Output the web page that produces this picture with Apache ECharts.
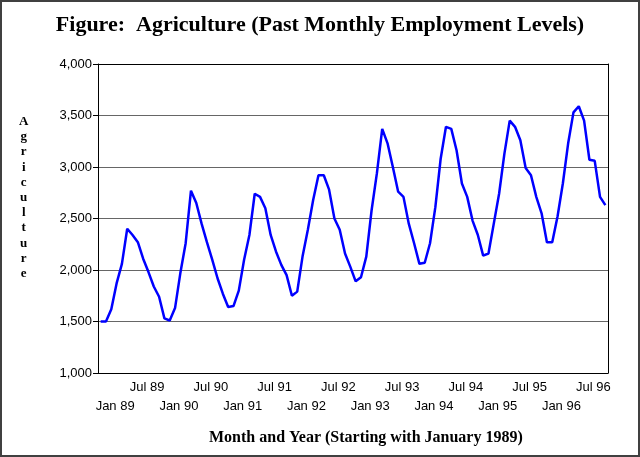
<!DOCTYPE html>
<html>
<head>
<meta charset="utf-8">
<script src="https://cdn.jsdelivr.net/npm/echarts@6/dist/echarts.min.js"></script>
<style>
html,body{margin:0;padding:0;background:#fff;}
#c{width:640px;height:457px;}
</style>
</head>
<body>
<div id="c"></div>
<script>
const titleText = 'Figure:  Agriculture (Past Monthly Employment Levels)';
const xAxisTitle = 'Month and Year (Starting with January 1989)';
const yAxisTitle = 'Agriculture';
const monthNames = ['Jan','Feb','Mar','Apr','May','Jun','Jul','Aug','Sep','Oct','Nov','Dec'];
const years = ['89','90','91','92','93','94','95','96'];
const categories = [];
years.forEach(y => monthNames.forEach(m => categories.push(m + ' ' + y)));
const xTickLabels = ['Jan 89','Jul 89','Jan 90','Jul 90','Jan 91','Jul 91','Jan 92','Jul 92',
  'Jan 93','Jul 93','Jan 94','Jul 94','Jan 95','Jul 95','Jan 96','Jul 96'];
const yTicks = [1000,1500,2000,2500,3000,3500,4000];
const employment = [
  1500,1500,1620,1870,2060,2400,2340,2270,2110,1980,1840,1740,
  1530,1510,1630,1970,2260,2770,2650,2450,2270,2100,1920,1770,
  1640,1650,1800,2100,2340,2740,2710,2600,2340,2180,2050,1950,
  1750,1790,2130,2390,2680,2920,2920,2780,2500,2390,2160,2030,
  1890,1930,2130,2580,2940,3370,3230,3000,2760,2710,2450,2260,
  2060,2070,2260,2610,3080,3390,3370,3160,2840,2710,2480,2340,
  2140,2160,2450,2740,3130,3450,3390,3260,2990,2920,2710,2550,
  2270,2270,2520,2840,3230,3530,3590,3450,3070,3060,2710,2630
];

const sans = '"Liberation Sans", Arial, sans-serif';
const serif = '"Liberation Serif", "Times New Roman", serif';
const chart = echarts.init(document.getElementById('c'), null, {renderer:'canvas'});
const fmt = v => v.toLocaleString('en-US');

chart.setOption({
  animation: false,
  backgroundColor: '#fff',
  title: {
    text: titleText, left: 'center', top: 9,
    textStyle: {fontFamily: serif, fontWeight: 'bold', fontSize: 22, color: '#000'}
  },
  grid: {left: 98, right: 32, top: 64, bottom: 84, containLabel: false},
  xAxis: [{
    type: 'category', data: categories, boundaryGap: true,
    axisLine: {lineStyle: {color: '#000', width: 1}},
    axisTick: {show: false},
    axisLabel: {
      interval: (i, v) => xTickLabels.indexOf(v) >= 0,
      margin: 8,
      formatter: v => (v.indexOf('Jan') === 0 ? '{jan|' + v + '}' : '{jul|' + v + '}'),
      rich: {
        jan: {padding: [19, 0, 0, 29], fontFamily: sans, fontSize: 13, color: '#000'},
        jul: {padding: [0, 0, 0, 29], fontFamily: sans, fontSize: 13, color: '#000'}
      }
    },
    splitLine: {show: false}
  }, {
    type: 'category', data: categories, position: 'top',
    axisLine: {lineStyle: {color: '#000', width: 1}},
    axisTick: {show: false}, axisLabel: {show: false}, splitLine: {show: false}
  }],
  yAxis: [{
    type: 'value', min: yTicks[0], max: yTicks[yTicks.length - 1], interval: 500,
    axisLine: {show: true, lineStyle: {color: '#000', width: 1}},
    axisTick: {show: true, length: 5, lineStyle: {color: '#000'}},
    axisLabel: {formatter: fmt, fontFamily: sans, fontSize: 13, color: '#000', margin: 6},
    splitLine: {show: true, lineStyle: {color: '#666', width: 1}}
  }, {
    type: 'value', min: yTicks[0], max: yTicks[yTicks.length - 1], interval: 500, position: 'right',
    axisLine: {show: true, lineStyle: {color: '#000', width: 1}},
    axisTick: {show: false}, axisLabel: {show: false}, splitLine: {show: false}
  }],
  series: [{
    type: 'line', data: employment, xAxisIndex: 0, yAxisIndex: 0,
    symbol: 'none', smooth: false,
    lineStyle: {color: '#0000ff', width: 2.5},
    itemStyle: {color: '#0000ff'}, z: 5
  }],
  graphic: [
    {type: 'rect', shape: {x: 1, y: 1, width: 638, height: 455},
     style: {fill: 'none', stroke: '#404040', lineWidth: 2}, silent: true, z: 100},
    {type: 'text', left: 19, top: 114,
     style: {text: yAxisTitle.split('').join('\n'), font: 'bold 13px ' + serif,
             lineHeight: 15.2, textAlign: 'center', fill: '#000'}},
    {type: 'text', left: 209, top: 430,
     style: {text: xAxisTitle, font: 'bold 16px ' + serif, fill: '#000'}}
  ]
});
</script>
</body>
</html>
